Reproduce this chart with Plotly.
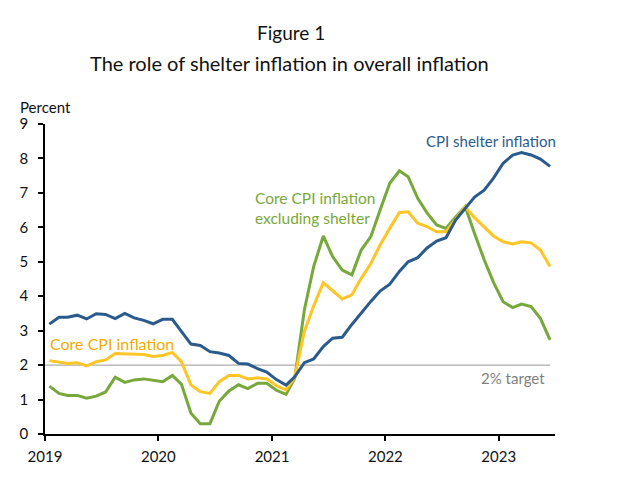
import pandas as pd
import plotly.graph_objects as go

# monthly, Jan 2019 - Jun 2023 (year-over-year, percent)
months = pd.date_range("2019-01-01", periods=54, freq="MS") + pd.Timedelta(days=14)

shelter = [3.19, 3.39, 3.39, 3.45, 3.34, 3.49, 3.47, 3.35, 3.50, 3.37, 3.30, 3.20,
           3.33, 3.33, 2.98, 2.61, 2.57, 2.39, 2.35, 2.28, 2.05, 2.03, 1.90, 1.80,
           1.58, 1.42, 1.66, 2.07, 2.18, 2.54, 2.78, 2.81, 3.18, 3.52, 3.85, 4.15,
           4.35, 4.72, 5.00, 5.12, 5.40, 5.60, 5.70, 6.21, 6.55, 6.88, 7.08, 7.43,
           7.86, 8.10, 8.17, 8.10, 7.98, 7.77]

core = [2.13, 2.08, 2.05, 2.07, 1.98, 2.10, 2.15, 2.34, 2.33, 2.31, 2.31, 2.25,
        2.28, 2.37, 2.10, 1.42, 1.23, 1.18, 1.52, 1.70, 1.70, 1.60, 1.63, 1.60,
        1.40, 1.28, 1.65, 2.98, 3.72, 4.39, 4.15, 3.92, 4.04, 4.52, 4.95, 5.49,
        5.97, 6.43, 6.45, 6.12, 6.02, 5.87, 5.87, 6.25, 6.60, 6.28, 6.00, 5.75,
        5.58, 5.52, 5.58, 5.55, 5.34, 4.86]

core_ex_shelter = [1.39, 1.18, 1.12, 1.12, 1.04, 1.10, 1.22, 1.65, 1.50, 1.57, 1.60, 1.55,
                   1.52, 1.70, 1.45, 0.60, 0.30, 0.30, 0.95, 1.25, 1.43, 1.32, 1.47, 1.47,
                   1.27, 1.15, 1.62, 3.60, 4.86, 5.75, 5.15, 4.76, 4.62, 5.34, 5.73, 6.50,
                   7.28, 7.64, 7.47, 6.84, 6.42, 6.07, 5.97, 6.30, 6.60, 5.82, 5.06, 4.40,
                   3.84, 3.67, 3.77, 3.70, 3.36, 2.73]

target = 2

BLUE = "#2A5B8C"
YELLOW = "#FFC425"
YELLOW_TXT = "#F2AC00"
GREEN = "#77A83A"
FONT = "Lato"

fig = go.Figure()

fig.add_shape(type="line", xref="x", yref="y",
              x0="2019-01-01", x1=months[-1], y0=target, y1=target,
              line=dict(color="#ABABAB", width=1.3), layer="below")

series = [
    ("Core CPI inflation excluding shelter", core_ex_shelter, GREEN),
    ("Core CPI inflation", core, YELLOW),
    ("CPI shelter inflation", shelter, BLUE),
]
for name, vals, col in series:
    fig.add_trace(go.Scatter(x=months, y=vals, mode="lines", name=name,
                             line=dict(color=col, width=3)))

labels = [
    dict(x="2022-12-07", y=8.52, text="CPI shelter inflation", color=BLUE, size=15,
         xanchor="center", align="center"),
    dict(x="2020-11-01", y=6.56, text="Core CPI inflation<br>excluding shelter", color=GREEN, size=15.5,
         xanchor="left", align="left"),
    dict(x="2019-01-12", y=2.63, text="Core CPI inflation", color=YELLOW_TXT, size=16,
         xanchor="left", align="left"),
    dict(x="2023-06-04", y=1.62, text="2% target", color="#808080", size=15,
         xanchor="right", align="right"),
]
for lab in labels:
    fig.add_annotation(x=lab["x"], y=lab["y"], xref="x", yref="y", text=lab["text"],
                       showarrow=False, xanchor=lab["xanchor"], yanchor="middle",
                       align=lab["align"],
                       font=dict(family=FONT, size=lab["size"], color=lab["color"]))

# axis unit and two-line title
fig.add_annotation(x=-0.052, y=1.055, xref="paper", yref="paper", text="Percent",
                   showarrow=False, xanchor="left", yanchor="middle",
                   font=dict(family=FONT, size=15, color="#111111"))
fig.add_annotation(x=0.482, y=1.294, xref="paper", yref="paper", text="Figure 1",
                   showarrow=False, xanchor="center", yanchor="middle",
                   font=dict(family=FONT, size=19, color="#111111"))
fig.add_annotation(x=0.48, y=1.197, xref="paper", yref="paper",
                   text="The role of shelter inflation in overall inflation",
                   showarrow=False, xanchor="center", yanchor="middle",
                   font=dict(family=FONT, size=20, color="#111111"))

fig.update_layout(
    width=631, height=485,
    margin=dict(l=35, r=84, t=116, b=59),
    paper_bgcolor="white", plot_bgcolor="white",
    showlegend=False,
    font=dict(family=FONT, size=15, color="#111111"),
)

fig.update_xaxes(range=["2019-01-01", "2023-07-01"], dtick="M12", tickformat="%Y",
                 showline=True, linecolor="black", linewidth=1.5,
                 ticks="outside", ticklen=5, tickcolor="black", tickwidth=1.5,
                 ticklabelstandoff=3,
                 showgrid=False, zeroline=False, tickfont=dict(size=15))
fig.update_yaxes(range=[0, 9], dtick=1, showline=True, linecolor="black", linewidth=1.5,
                 ticks="outside", ticklen=5, tickcolor="black", tickwidth=1.5,
                 ticklabelstandoff=7,
                 showgrid=False, zeroline=False, tickfont=dict(size=15))

fig.write_html("out.html")
